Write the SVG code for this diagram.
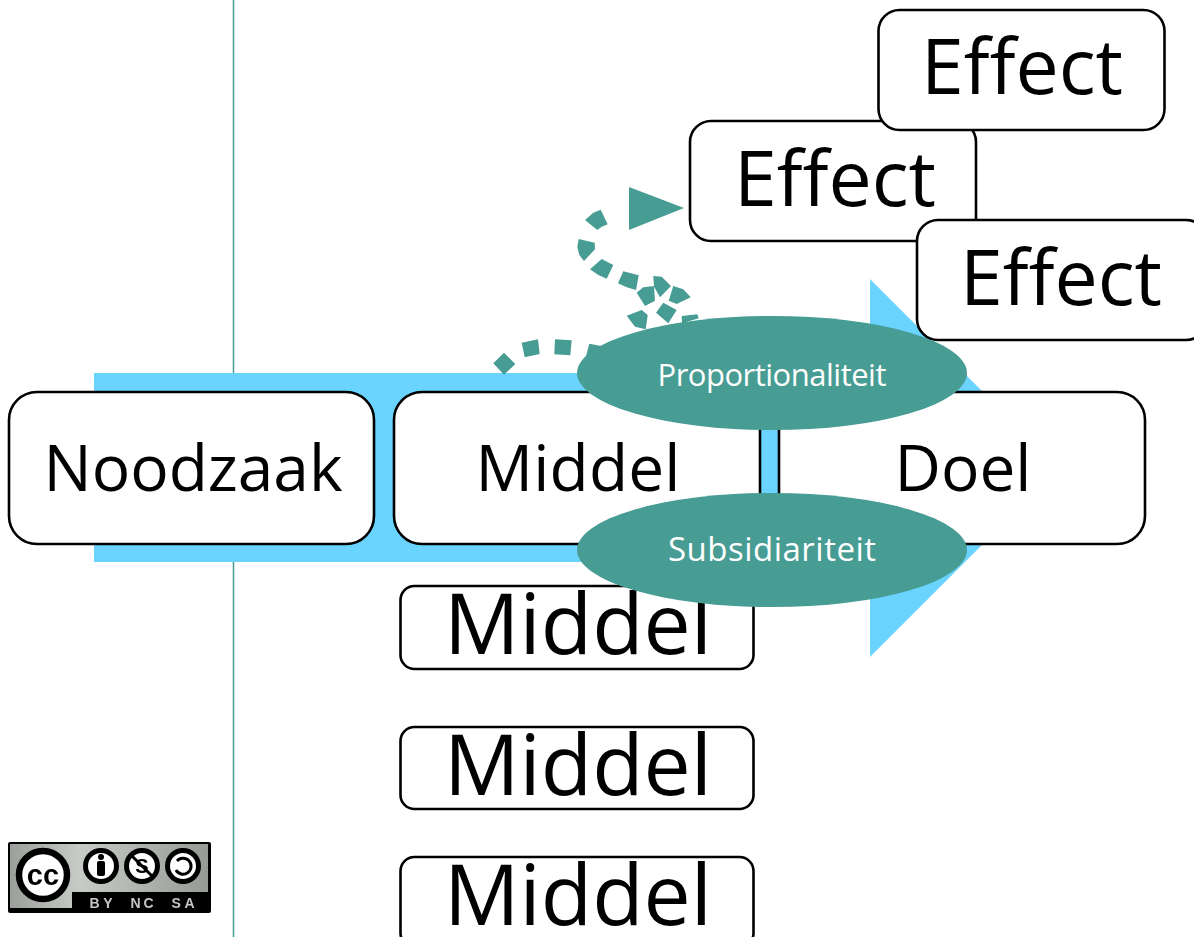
<svg xmlns="http://www.w3.org/2000/svg" width="1194" height="937" viewBox="0 0 1194 937">
<style>
.box{fill:#fff;stroke:#000;stroke-width:2.6}
.t{font-family:"Open Sans","Noto Sans",sans-serif;fill:#000;text-anchor:middle}
.big{font-size:64px}
.huge{font-size:84px}
.eff{font-size:77px}
.el{fill:#479c93}
.wt{font-family:"Open Sans","Noto Sans",sans-serif;fill:#fff;text-anchor:middle}
.cct{font-family:"Liberation Sans",sans-serif;font-weight:bold;fill:#c4c8c4;font-size:14px;text-anchor:middle}
.ic{fill:#fff;stroke:#000;stroke-width:5}
</style>
<defs>
<linearGradient id="ccg" x1="0" y1="0" x2="1" y2="0"><stop offset="0" stop-color="#9a9f9a"/><stop offset="0.35" stop-color="#c6cbc6"/><stop offset="1" stop-color="#969b96"/></linearGradient>
<filter id="soft" x="-5%" y="-5%" width="110%" height="110%"><feGaussianBlur stdDeviation="0.6"/></filter>
</defs>
<rect width="1194" height="937" fill="#fff"/>
<line x1="233.500" y1="0" x2="233.500" y2="937" stroke="#479c93" stroke-width="1.500"/>
<polygon id="flow-arrow" points="94,373 870,373 870,279 1059,468 870,657 870,562 94,562" fill="#6ad4ff"/>
<g id="connectors">
<path fill="#479c93" d="M504,352.700L515.300,364L504,374.700L493.300,363.300ZM521.700,342.700L538,339.300L539.700,354L524.700,357.300ZM555,339.300L571.700,340.300L570.300,355.300L554.300,354.300ZM589.300,343.700L601,346L590,362L585,360ZM626.700,315.700L641.700,310L647.700,315L645.700,329.300L635,326.700ZM656,312.700L663.300,302.700L676.700,310L668.300,323.300ZM681.700,316L697.300,314.300L698.700,318.300L682,323.300ZM636.700,292.700L643.300,287.300L654,286L655,300.700L645,306ZM653.300,276L661.700,276.700L671,286L660,297.300L654,286.700ZM673.300,286L683.300,289.300L690.700,297.300L676.700,304L668.700,300.700ZM623.300,271.300L638.700,275.300L636,290L626.700,287.300L618,283.300ZM601.700,259L613.300,265L606.700,278.700L598.300,275L590,269.300ZM578.700,239L594.700,242.700L595,249.300L584,261L579.300,255L577.300,246.700ZM585,220L593.300,212.700L600.700,209.700L607.700,224.300L601.700,226.700L597.300,230Z"/>
<polygon points="629,187 684,208 629,230" fill="#479c93"/>
</g>
<g id="effect-2"><rect class="box" x="690" y="121" width="286" height="120" rx="21"/><text class="t eff" x="835" y="206">Effect</text></g>
<g id="effect-1"><rect class="box" x="878.500" y="10" width="286" height="120" rx="21"/><text class="t eff" x="1022" y="94">Effect</text></g>
<g id="effect-3"><rect class="box" x="917" y="220" width="290" height="120" rx="21"/><text class="t eff" x="1061" y="305">Effect</text></g>
<g id="noodzaak"><rect class="box" x="9" y="392" width="365" height="152" rx="28"/><text class="t big" x="193" y="491">Noodzaak</text></g>
<g id="middel-main"><rect class="box" x="394" y="392" width="366" height="152" rx="28"/><text class="t big" x="578" y="491" textLength="205">Middel</text></g>
<g id="doel"><rect class="box" x="779" y="392" width="366" height="152" rx="28"/><text class="t big" x="963" y="491">Doel</text></g>
<g id="middel-1"><rect class="box" x="400.500" y="586" width="353" height="83" rx="14"/><text class="t huge" x="578" y="654">Middel</text></g>
<g id="middel-2"><rect class="box" x="400.500" y="727" width="353" height="82" rx="14"/><text class="t huge" x="578" y="795">Middel</text></g>
<g id="middel-3"><rect class="box" x="400.500" y="857" width="353" height="90" rx="14"/><text class="t huge" x="578" y="925">Middel</text></g>
<g id="proportionaliteit"><ellipse class="el" cx="772" cy="373" rx="195" ry="57"/><text class="wt" font-size="31" x="772" y="386" textLength="229">Proportionaliteit</text></g>
<g id="subsidiariteit"><ellipse class="el" cx="772" cy="550" rx="195" ry="57"/><text class="wt" font-size="33" x="772" y="561" textLength="208">Subsidiariteit</text></g>
<g id="cc-badge" filter="url(#soft)">
<rect x="8" y="842" width="203" height="71" rx="2" fill="#000"/>
<path d="M10,844H208V892H72V908H10Z" fill="url(#ccg)"/>
<circle cx="43" cy="875" r="24" fill="#fff" stroke="#000" stroke-width="6.500"/>
<text x="43" y="885" font-family="Liberation Sans,sans-serif" font-weight="bold" font-size="29" text-anchor="middle" fill="#000">cc</text>
<circle cx="101" cy="866" r="15.500" class="ic"/>
<circle cx="101" cy="857" r="3" fill="#000"/><rect x="97" y="861" width="8" height="15" rx="2" fill="#000"/>
<circle cx="142" cy="866" r="15.500" class="ic"/>
<line x1="131" y1="855" x2="153" y2="877" stroke="#000" stroke-width="3"/>
<text x="142" y="873" font-family="Liberation Sans,sans-serif" font-weight="bold" font-size="20" text-anchor="middle" fill="#000">S</text>
<circle cx="183" cy="866" r="15.500" class="ic"/>
<path d="M177,861A8,8 0 1 1 176,870" fill="none" stroke="#000" stroke-width="3"/>
<text class="cct" x="101" y="908" textLength="23">BY</text><text class="cct" x="142" y="908" textLength="23">NC</text><text class="cct" x="183" y="908" textLength="23">SA</text>
</g>
</svg>
